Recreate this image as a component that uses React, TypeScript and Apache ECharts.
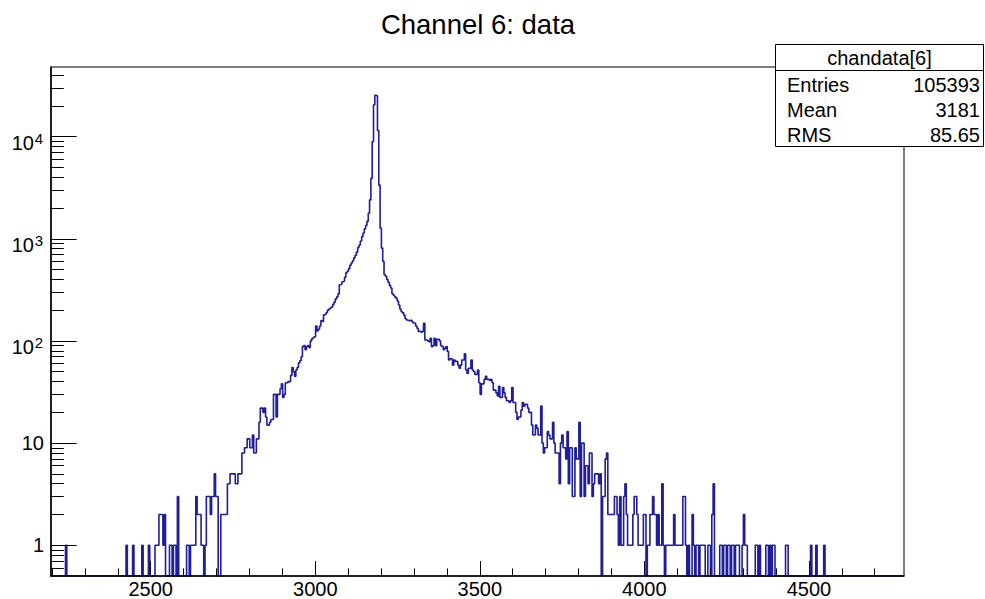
import React, { useEffect, useRef } from "react";
import * as echarts from "echarts";

// ---- axis ranges / binning ----
const X_MIN = 2197;
const BIN_WIDTH = 4;
const X_MAX = 4789;
const Y_MIN = 0.5;
const Y_MAX = 48000;

// ---- tick values / labels ----
const X_MAJOR_TICKS = [2500, 3000, 3500, 4000, 4500];
const X_MINOR_TICKS = [2200, 2300, 2400, 2600, 2700, 2800, 2900, 3100, 3200, 3300, 3400, 3600, 3700, 3800, 3900, 4100, 4200, 4300, 4400, 4600, 4700];
const Y_MAJOR_TICKS = [1, 10, 100, 1000, 10000];
const Y_PLAIN_LABELS = [1, 10];
const Y_POWER_LABELS = [100, 1000, 10000];
const Y_MINOR_TICKS = [
  0.6, 0.7, 0.8, 0.9,
  2, 3, 4, 5, 6, 7, 8, 9,
  20, 30, 40, 50, 60, 70, 80, 90,
  200, 300, 400, 500, 600, 700, 800, 900,
  2000, 3000, 4000, 5000, 6000, 7000, 8000, 9000,
  20000, 30000, 40000,
];

// ---- texts ----
const TITLE = "Channel 6: data";
const STATS_NAME = "chandata[6]";
const STATS_LABELS = ["Entries", "Mean", "RMS"];
const STATS_VALUES = ["105393", "3181", "85.65"];

// ---- bin contents (bin width 4, starting at X_MIN) ----
const TAIL_LEFT = [
  0, 0, 0, 0, 0, 0, 0, 0, 0, 0,
  0, 1, 0, 0, 0, 0, 0, 0, 0, 0,
  0, 0, 0, 0, 0, 0, 0, 0, 0, 0,
  0, 0, 0, 0, 0, 0, 0, 0, 0, 0,
  0, 0, 0, 0, 0, 0, 0, 0, 0, 0,
  0, 0, 0, 0, 0, 0, 0, 1, 0, 0,
  0, 0, 1, 0, 0, 0, 0, 0, 0, 1,
  0, 0, 0, 0, 1, 0, 0, 0, 0, 1,
  1, 1, 2, 2, 2, 1, 2, 0, 0, 0,
  1, 1, 0, 1, 1, 0, 3, 0, 0, 0,
  0, 0, 0, 1, 1, 0, 1, 1, 1, 1,
  3, 2, 2, 2, 1, 1, 0, 1, 3, 3,
  3, 2, 3, 3, 5, 3, 3, 0, 0, 2,
  2, 2, 2, 2, 4, 4, 5, 5, 5, 5,
  4, 4, 5, 5, 5,
];
const FLANK_LEFT = [
  8, 8, 9, 9, 11, 11, 9, 9, 12, 8,
  8, 11, 11, 16, 22, 22, 20, 22, 18, 15,
  15, 16, 17, 17, 30, 30, 18, 30, 30, 34,
  38, 28, 30, 39, 39, 40, 40, 46, 55, 50,
  45, 52, 55, 61, 64, 70, 88, 90, 82, 88,
  90, 86, 100, 105, 108, 110, 140, 125, 130, 140,
  158, 155, 180, 182, 190, 200, 205, 210, 215, 228,
  240, 258, 270, 290, 355, 358, 380, 385, 420, 465,
  480, 510, 550, 580, 610, 650, 690, 740, 820, 870,
  950, 1050, 1140, 1250, 1350, 1480, 1780, 2400,
];
const PEAK = [3900, 8900, 20500, 25400, 25000, 11500, 3350];
const FLANK_RIGHT = [
  1270, 810, 600, 445, 430, 400, 375, 350, 330, 290,
  280, 270, 262, 246, 225, 205, 193, 188, 178, 165,
  160, 158, 158, 160, 155, 150, 149, 140, 133, 124,
  124, 122, 124, 149, 102, 102, 100, 98, 106, 88,
  90, 106, 90, 104, 104, 100, 90, 88, 82, 85,
  88, 79, 65, 67, 67, 58, 65, 63, 63, 58,
  54, 58, 65, 65, 75, 52, 48, 54, 54, 65,
  52, 50, 47, 47, 52, 39, 30, 38, 38, 42,
  45, 42, 42, 41, 42, 39, 33, 33, 31, 29,
  36, 28, 28, 35, 31, 28, 26, 26, 25, 26,
  35, 25, 25, 20, 17, 18, 18, 21, 25, 23,
  24, 24, 22, 20, 20, 15, 12, 12, 15, 14,
  12, 12, 23, 10, 8, 9, 9, 13, 12, 11,
  11, 16, 10, 8, 8, 8, 4, 10, 12, 9,
  9, 7, 13, 4, 9, 9, 3, 3, 9, 7,
  7, 16, 3, 10, 10, 3, 6, 6, 4, 8,
  8, 3, 4, 5, 5, 5, 4, 5,
];
const TAIL_RIGHT = [
  0, 3, 3, 7, 8, 2, 2, 2, 2, 2,
  3, 3, 2, 1, 3, 1, 1, 3, 4, 2,
  1, 1, 1, 1, 2, 3, 3, 2, 1, 1,
  1, 1, 2, 2, 0, 1, 1, 2, 2, 3,
  2, 2, 1, 2, 1, 1, 4, 1, 0, 1,
  1, 1, 1, 1, 1, 2, 1, 1, 1, 1,
  1, 1, 3, 3, 1, 0, 1, 0, 0, 2,
  1, 0, 1, 1, 0, 1, 1, 1, 1, 0,
  0, 1, 1, 0, 2, 4, 0, 0, 0, 0,
  1, 1, 0, 1, 1, 0, 1, 1, 0, 1,
  1, 0, 1, 1, 1, 0, 0, 1, 2, 1,
  1, 0, 0, 0, 0, 0, 0, 1, 1, 0,
  1, 0, 0, 0, 0, 1, 1, 0, 1, 0,
  1, 1, 0, 0, 0, 0, 0, 0, 0, 0,
  1, 1, 0, 0, 0, 0, 0, 0, 0, 0,
  0, 0, 0, 0, 0, 0, 0, 0, 0, 1,
  0, 0, 0, 1, 0, 0, 0, 0, 0, 1,
  0, 0, 0, 0, 0, 0, 0, 0, 0, 0,
  0, 0, 0, 0, 0, 0, 0, 0, 0, 0,
  0, 0, 0, 0, 0, 0, 0, 0, 0, 0,
  0, 0, 0, 0, 0, 0, 0, 0, 0, 0,
  0, 0, 0, 0, 0, 0, 0, 0, 0, 0,
  0, 0, 0, 0, 0, 0, 0, 0, 0, 0,
];

const FONT = '"Liberation Sans", Arial, Helvetica, sans-serif';
const LINE_COLOR = "#1e1e9c";

export default function App() {
  const ref = useRef<HTMLDivElement>(null);

  useEffect(() => {
    if (!ref.current) return;
    const chart = echarts.init(ref.current, null, { renderer: "svg" });

    const counts = [...TAIL_LEFT, ...FLANK_LEFT, ...PEAK, ...FLANK_RIGHT, ...TAIL_RIGHT];
    const data: number[][] = counts.map((c, i) => [X_MIN + BIN_WIDTH * i, c > 0 ? c : Y_MIN]);
    const last = counts[counts.length - 1];
    data.push([X_MIN + BIN_WIDTH * counts.length, last > 0 ? last : Y_MIN]);

    const statsX = 775.5;
    const statsY = 44.5;
    const statsW = 208;
    const statsH = 102;
    const rowY = [85, 110, 135];

    const statsTexts: any[] = [];
    STATS_LABELS.forEach((lab, i) => {
      statsTexts.push({
        type: "text",
        x: 787,
        y: rowY[i],
        style: { text: lab, font: `20px ${FONT}`, fill: "#000", textAlign: "left", textVerticalAlign: "middle" },
      });
      statsTexts.push({
        type: "text",
        x: 980,
        y: rowY[i],
        style: { text: STATS_VALUES[i], font: `20px ${FONT}`, fill: "#000", textAlign: "right", textVerticalAlign: "middle" },
      });
    });

    const logAxisBase = {
      type: "log",
      logBase: 10,
      min: Y_MIN,
      max: Y_MAX,
      position: "left",
      z: 3,
      splitLine: { show: false },
    };

    const option: any = {
      animation: false,
      backgroundColor: "#fff",
      grid: {
        left: 51,
        top: 67,
        right: 81,
        bottom: 23,
        show: true,
        borderColor: "#000",
        borderWidth: 1,
        backgroundColor: "transparent",
        containLabel: false,
        outerBoundsMode: "none",
      },
      xAxis: [
        {
          type: "value",
          min: X_MIN,
          max: X_MAX,
          z: 3,
          axisLine: { show: true, onZero: false, lineStyle: { color: "#000", width: 1.5 } },
          axisTick: { show: true, inside: true, length: 15, customValues: X_MAJOR_TICKS, lineStyle: { color: "#000", width: 1 } },
          axisLabel: {
            show: true,
            customValues: X_MAJOR_TICKS,
            formatter: (v: number) => String(Math.round(v)),
            color: "#000",
            fontSize: 20,
            lineHeight: 16,
            fontFamily: FONT,
            margin: 5,
          },
          splitLine: { show: false },
        },
        {
          type: "value",
          min: X_MIN,
          max: X_MAX,
          position: "bottom",
          z: 3,
          axisLine: { show: false, onZero: false },
          axisTick: { show: true, inside: true, length: 7.6, customValues: X_MINOR_TICKS, lineStyle: { color: "#000", width: 1 } },
          axisLabel: { show: false },
          splitLine: { show: false },
        },
      ],
      yAxis: [
        {
          ...logAxisBase,
          axisLine: { show: true, onZero: false, lineStyle: { color: "#000", width: 1.5 } },
          axisTick: { show: true, inside: true, length: 25.6, customValues: Y_MAJOR_TICKS, lineStyle: { color: "#000", width: 1 } },
          axisLabel: {
            show: true,
            customValues: Y_PLAIN_LABELS,
            margin: 7,
            formatter: (v: number) => String(Math.round(v)),
            color: "#000",
            fontSize: 20,
            fontFamily: FONT,
          },
        },
        {
          ...logAxisBase,
          axisLine: { show: false, onZero: false },
          axisTick: { show: true, inside: true, length: 12.8, customValues: Y_MINOR_TICKS, lineStyle: { color: "#000", width: 1 } },
          axisLabel: {
            show: true,
            customValues: Y_POWER_LABELS,
            margin: 17,
            formatter: () => "10",
            color: "#000",
            fontSize: 20,
            lineHeight: 12,
            verticalAlign: "top",
            fontFamily: FONT,
          },
        },
        {
          ...logAxisBase,
          axisLine: { show: false, onZero: false },
          axisTick: { show: false },
          axisLabel: {
            show: true,
            customValues: Y_POWER_LABELS,
            margin: 8,
            formatter: (v: number) => String(Math.round(Math.log10(v))),
            color: "#000",
            fontSize: 15,
            lineHeight: 3,
            verticalAlign: "top",
            fontFamily: FONT,
          },
        },
      ],
      series: [
        {
          type: "line",
          xAxisIndex: 0,
          yAxisIndex: 0,
          step: "end",
          data,
          showSymbol: false,
          symbol: "none",
          silent: true,
          lineStyle: { color: LINE_COLOR, width: 1.6 },
          z: 2,
        },
      ],
      graphic: [
        {
          type: "text",
          z: 100,
          x: 478,
          y: 24,
          style: { text: TITLE, font: `27.5px ${FONT}`, fill: "#000", textAlign: "center", textVerticalAlign: "middle" },
        },
        {
          type: "group",
          z: 100,
          children: [
            {
              type: "rect",
              shape: { x: statsX, y: statsY, width: statsW, height: statsH },
              style: { fill: "#fff", stroke: "#000", lineWidth: 1 },
            },
            {
              type: "line",
              shape: { x1: statsX, y1: 70.5, x2: statsX + statsW, y2: 70.5 },
              style: { stroke: "#000", lineWidth: 1 },
            },
            {
              type: "text",
              x: statsX + statsW / 2,
              y: 57.5,
              style: { text: STATS_NAME, font: `20px ${FONT}`, fill: "#000", textAlign: "center", textVerticalAlign: "middle" },
            },
            ...statsTexts,
          ],
        },
      ],
    };

    chart.setOption(option);
    return () => chart.dispose();
  }, []);

  return (
    <div
      ref={ref}
      style={{ position: "fixed", left: 0, top: 0, width: 985, height: 599, background: "#fff" }}
    />
  );
}
